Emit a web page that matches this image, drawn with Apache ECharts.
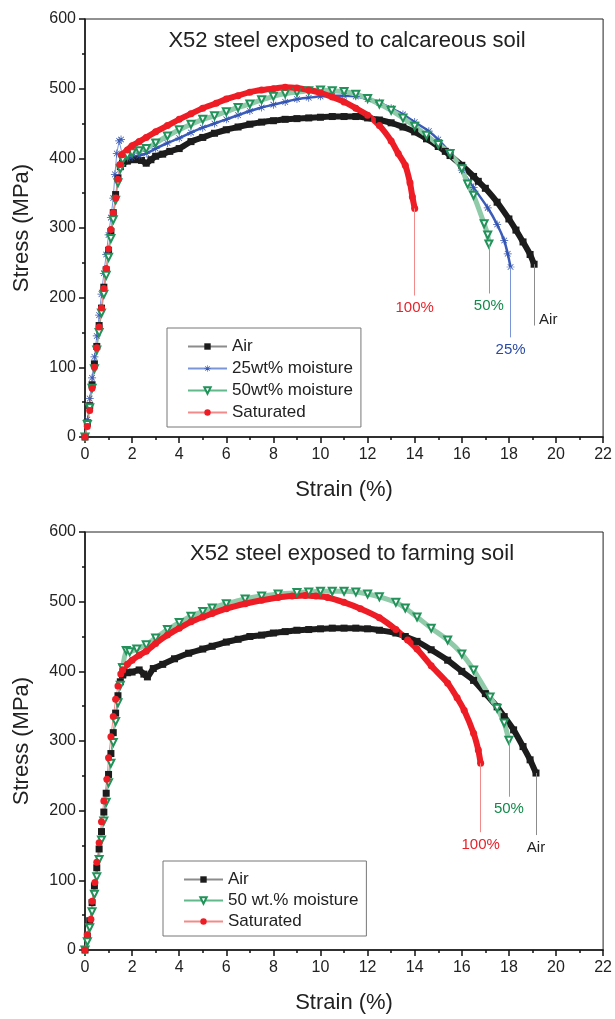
<!DOCTYPE html>
<html>
<head>
<meta charset="utf-8">
<script src="https://cdn.jsdelivr.net/npm/echarts@6/dist/echarts.min.js"></script>
<style>
html, body { margin: 0; padding: 0; background: #fff; }
#chart { width: 615px; height: 1019px; }
</style>
</head>
<body>
<div id="chart"></div>
<script>
// ---- top panel: calcareous soil ----
var calcTitle = 'X52 steel exposed to calcareous soil';
var calcNames = ['Air', '25wt% moisture', '50wt% moisture', 'Saturated'];
var calcAir = [[0,0],[0.1,20],[0.2,45],[0.3,75],[0.4,105],[0.5,130],[0.6,160],[0.7,185],[0.8,215],[0.9,240],[1.0,268],[1.1,295],[1.2,322],[1.3,348],[1.4,372],[1.5,388],
  [1.6,393],[1.8,396],[2.1,398],[2.4,397],[2.6,393],[2.8,398],[3.0,403],[3.3,406],[3.6,410],[4.0,414],[4.5,424],[5.0,430],[5.5,436],[6,441],[6.5,445],[7,449],[7.5,452],[8,454],[8.5,456],[9,457],[9.5,458],[10,459],[10.5,460],[11,460],[11.5,460],[12,458],[12.5,455],[13,451],[13.5,445],[14,438],[14.5,428],[15,417],[15.3,410],[15.5,404],[16,390],[16.5,374],[16.7,367],[17,357],[17.5,337],[18,313],[18.3,297],[18.6,280],[18.9,262],[19.07,248]];
var calc25 = [[0,0],[0.1,25],[0.2,55],[0.3,85],[0.4,115],[0.5,145],[0.6,175],[0.7,205],[0.8,235],[0.9,262],[1.0,290],[1.1,315],[1.2,343],[1.27,377],[1.35,407],[1.45,425],[1.53,427],
  [1.6,403],[1.8,400],[2.0,402],[2.3,404],[2.6,407],[3.0,414],[3.5,422],[4.0,429],[4.5,437],[5.0,444],[5.5,450],[6,456],[6.5,462],[7,468],[7.5,473],[8,477],[8.5,481],[9,485],[9.5,487],[10,489],[10.5,490],[11,490],[11.5,489],[12,485],[12.5,480],[13,472],[13.5,463],[14,452],[14.6,439],[15,427],[15.5,408],[16,383],[16.5,358],[17.1,329],[17.5,305],[17.8,282],[17.95,263],[18.07,244]];
var calc50 = [[0,0],[0.1,18],[0.2,42],[0.3,70],[0.4,98],[0.5,125],[0.6,150],[0.7,178],[0.8,205],[0.9,232],[1.0,258],[1.1,285],[1.2,312],[1.3,340],[1.4,365],[1.5,385],
  [1.6,398],[1.8,404],[2.0,408],[2.3,411],[2.6,414],[3.0,422],[3.5,432],[4.0,441],[4.5,449],[5.0,456],[5.5,461],[6,467],[6.5,473],[7,478],[7.5,484],[8,489],[8.5,493],[9,495],[9.5,497],[10,498],[10.5,497],[11,496],[11.5,492],[12,486],[12.5,478],[13,469],[13.5,458],[14,446],[14.5,433],[15,420],[15.5,407],[16,385],[16.25,363],[16.5,347],[16.95,306],[17.1,290],[17.15,277]];
var calcSat = [[0,0],[0.1,15],[0.2,38],[0.3,70],[0.4,100],[0.5,128],[0.6,158],[0.7,185],[0.8,213],[0.9,242],[1.0,270],[1.1,298],[1.2,322],[1.31,343],[1.4,370],[1.48,391],
  [1.56,405],[1.8,412],[2.0,418],[2.3,424],[2.6,430],[3.0,438],[3.5,447],[4.0,456],[4.5,464],[5.0,472],[5.57,479],[6,485],[6.5,490],[7,495],[7.5,498],[8,500],[8.5,502],[9,501],[9.5,498],[10,494],[10.5,488],[11,481],[11.5,472],[12,462],[12.5,447],[13,425],[13.3,407],[13.6,390],[13.8,365],[13.9,345],[14.0,328]];
// annotation leaders: [series name, text, strain, stress at curve end, stress at line foot]
var calcNotes = [
  ['Saturated', '100%', 14.0, 328, 203],
  ['50wt% moisture', '50%', 17.15, 277, 206],
  ['25wt% moisture', '25%', 18.07, 244, 143],
  ['Air', 'Air', 19.07, 248, 160]
];

// ---- bottom panel: farming soil ----
var farmTitle = 'X52 steel exposed to farming soil';
var farmNames = ['Air', '50 wt.% moisture', 'Saturated'];
var farmAir = [[0,0],[0.1,20],[0.2,42],[0.3,68],[0.4,92],[0.5,118],[0.6,145],[0.7,170],[0.8,198],[0.9,225],[1.0,252],[1.1,282],[1.2,312],[1.3,340],[1.4,365],[1.5,385],
  [1.6,395],[1.8,398],[2.0,399],[2.3,402],[2.5,396],[2.65,392],[2.9,404],[3.3,410],[3.8,418],[4.4,426],[5.0,432],[5.4,436],[6,442],[6.5,446],[7,450],[7.5,452],[8,455],[8.5,457],[9,459],[9.5,460],[10,461],[10.5,462],[11,462],[11.5,462],[12,461],[12.5,459],[13.2,455],[13.6,450],[14.1,443],[14.7,431],[15.4,416],[16,400],[16.5,387],[17,368],[17.5,349],[17.8,335],[18.2,316],[18.6,292],[18.9,273],[19.15,254]];
var farm50 = [[0,0],[0.1,12],[0.2,32],[0.3,55],[0.4,80],[0.5,105],[0.6,130],[0.7,158],[0.8,185],[0.9,212],[1.0,240],[1.1,268],[1.2,298],[1.3,328],[1.4,355],[1.5,380],
  [1.6,405],[1.75,430],[1.9,428],[2.2,432],[2.6,438],[3.0,448],[3.5,460],[4.0,470],[4.5,479],[5.0,486],[5.4,491],[6,497],[6.8,504],[7.5,508],[8.2,511],[9,513],[9.5,514],[10,515],[10.5,515],[11,515],[11.5,514],[12,511],[12.5,507],[13.2,499],[13.6,491],[14.1,478],[14.7,462],[15.4,445],[16,425],[16.5,402],[17.2,363],[17.5,347],[17.8,326],[18.0,301]];
var farmSat = [[0,0],[0.1,22],[0.25,44],[0.3,70],[0.42,97],[0.5,126],[0.6,154],[0.7,184],[0.8,214],[0.93,245],[1.0,276],[1.1,306],[1.2,335],[1.3,360],[1.4,379],[1.52,396],
  [1.6,402],[1.8,410],[2.0,416],[2.3,423],[2.6,429],[3.0,440],[3.5,452],[4.0,462],[4.5,471],[5.0,478],[5.4,483],[6,490],[6.8,497],[7.5,502],[8.2,506],[8.8,508],[9.35,509],[9.8,508],[10.3,506],[11,499],[11.7,490],[12.5,477],[13.2,460],[13.7,445],[14.1,432],[14.7,408],[15.4,383],[15.8,362],[16.1,344],[16.5,311],[16.7,287],[16.8,268]];
var farmNotes = [
  ['Saturated', '100%', 16.8, 268, 169],
  ['50 wt.% moisture', '50%', 18.0, 301, 220],
  ['Air', 'Air', 19.15, 254, 165]
];

var FONT = '"Liberation Sans", Arial, sans-serif';
var STAR = 'path://M9.1,0h1.8v20h-1.8zM0,9.1h20v1.8h-20zM2.3,3.6l1.3,-1.3l14.1,14.1l-1.3,1.3zM17.7,3.6l-1.3,-1.3l-14.1,14.1l1.3,1.3z';

var looks = {
  air: { symbol: 'rect', size: 7, color: '#1c1c1c', thin: '#8c8c8c', band: '#1c1c1c', bandWidth: 6, note: '#222' },
  m25: { symbol: STAR, size: 8, color: '#3052b0', thin: '#7a95d8', band: '#3b5cb8', bandWidth: 2.5, note: '#2a4aa8' },
  m50: { symbol: 'emptyTriangle', rotate: 180, size: 7, color: '#22925a', thin: '#62b98c', band: '#8fcaa9', bandWidth: 5, note: '#128a4a', border: 1 },
  sat: { symbol: 'circle', size: 7, color: '#ee1d25', thin: '#f28a8a', band: '#ee1d25', bandWidth: 6, note: '#e8222a' }
};

// one curve = thin elastic part + dense plastic band, sharing a legend name
function curve(name, data, gi, lk, notes) {
  var k = 0;
  while (k < data.length && data[k][0] < 1.55) k++;
  function base(d) {
    return {
      type: 'line', name: name, xAxisIndex: gi, yAxisIndex: gi, data: d,
      symbol: lk.symbol, symbolSize: lk.size, symbolRotate: lk.rotate || 0,
      animation: false, silent: true,
      itemStyle: { color: lk.color, borderWidth: lk.border || 0 }
    };
  }
  var elastic = base(data.slice(0, k + 1));
  elastic.lineStyle = { color: lk.thin, width: 1 };
  var plastic = base(data.slice(k));
  plastic.lineStyle = { color: lk.band, width: lk.bandWidth };
  plastic.smooth = 0.2;
  notes.forEach(function (n) {
    if (n[0] !== name) return;
    var side = n[1] === 'Air' && gi === 0;
    plastic.markLine = {
      silent: true, symbol: 'none', animation: false,
      lineStyle: { color: lk.thin, width: 1, type: 'solid' },
      label: {
        show: true, position: 'end', formatter: n[1], color: lk.note,
        fontSize: 15, fontFamily: FONT,
        align: side ? 'left' : 'center', verticalAlign: side ? 'bottom' : 'top',
        padding: side ? [0, 0, 0, 5] : 0, distance: side ? 2 : 5
      },
      data: [[{ coord: [n[2], n[3]] }, { coord: [n[2], n[4]] }]]
    };
  });
  return [elastic, plastic];
}

var series = [].concat(
  curve('Air', calcAir, 0, looks.air, calcNotes),
  curve('25wt% moisture', calc25, 0, looks.m25, calcNotes),
  curve('50wt% moisture', calc50, 0, looks.m50, calcNotes),
  curve('Saturated', calcSat, 0, looks.sat, calcNotes),
  curve('Air', farmAir, 1, looks.air, farmNotes),
  curve('50 wt.% moisture', farm50, 1, looks.m50, farmNotes),
  curve('Saturated', farmSat, 1, looks.sat, farmNotes)
);

function xAxis(gi) {
  return {
    type: 'value', gridIndex: gi, min: 0, max: 22, interval: 2,
    name: 'Strain (%)', nameLocation: 'middle', nameGap: 42,
    nameTextStyle: { fontSize: 22, color: '#222', fontFamily: FONT },
    axisLine: { onZero: false, lineStyle: { color: '#111', width: 1.5 } },
    axisTick: { length: 6, lineStyle: { color: '#111', width: 1.5 } },
    minorTick: { show: true, splitNumber: 2, length: 3, lineStyle: { color: '#111', width: 1.5 } },
    axisLabel: { fontSize: 16, color: '#222', fontFamily: FONT, margin: 10 },
    splitLine: { show: false }
  };
}
function yAxis(gi) {
  return {
    type: 'value', gridIndex: gi, min: 0, max: 600, interval: 100,
    name: 'Stress (MPa)', nameLocation: 'middle', nameGap: 52,
    nameTextStyle: { fontSize: 22, color: '#222', fontFamily: FONT },
    axisLine: { onZero: false, lineStyle: { color: '#111', width: 1.5 } },
    axisTick: { length: 6, lineStyle: { color: '#111', width: 1.5 } },
    minorTick: { show: true, splitNumber: 2, length: 3, lineStyle: { color: '#111', width: 1.5 } },
    axisLabel: { fontSize: 16, color: '#222', fontFamily: FONT, margin: 9 },
    splitLine: { show: false }
  };
}

function legend(names, left, top, gap) {
  return {
    data: names, orient: 'vertical', left: left, top: top,
    itemWidth: 39, itemHeight: 8, itemGap: gap,
    padding: [10, 8, 6, 20],
    borderColor: '#777', borderWidth: 1,
    textStyle: { fontSize: 17, color: '#222', fontFamily: FONT },
    selectedMode: false
  };
}

var chart = echarts.init(document.getElementById('chart'), null, { renderer: 'canvas' });
chart.setOption({
  backgroundColor: '#fff',
  title: [
    { text: calcTitle, left: 347, top: 30, textAlign: 'center', padding: 0,
      textStyle: { fontSize: 22, fontWeight: 'normal', color: '#222', fontFamily: FONT } },
    { text: farmTitle, left: 352, top: 543, textAlign: 'center', padding: 0,
      textStyle: { fontSize: 22, fontWeight: 'normal', color: '#222', fontFamily: FONT } }
  ],
  grid: [
    { left: 85, top: 19, width: 521, height: 418, show: true, borderColor: '#222', borderWidth: 1, backgroundColor: 'transparent' },
    { left: 85, top: 532, width: 521, height: 418, show: true, borderColor: '#222', borderWidth: 1, backgroundColor: 'transparent' }
  ],
  xAxis: [xAxis(0), xAxis(1)],
  yAxis: [yAxis(0), yAxis(1)],
  legend: [legend(calcNames, 167, 328, 5), legend(farmNames, 163, 861, 4)],
  series: series
});
</script>
</body>
</html>
